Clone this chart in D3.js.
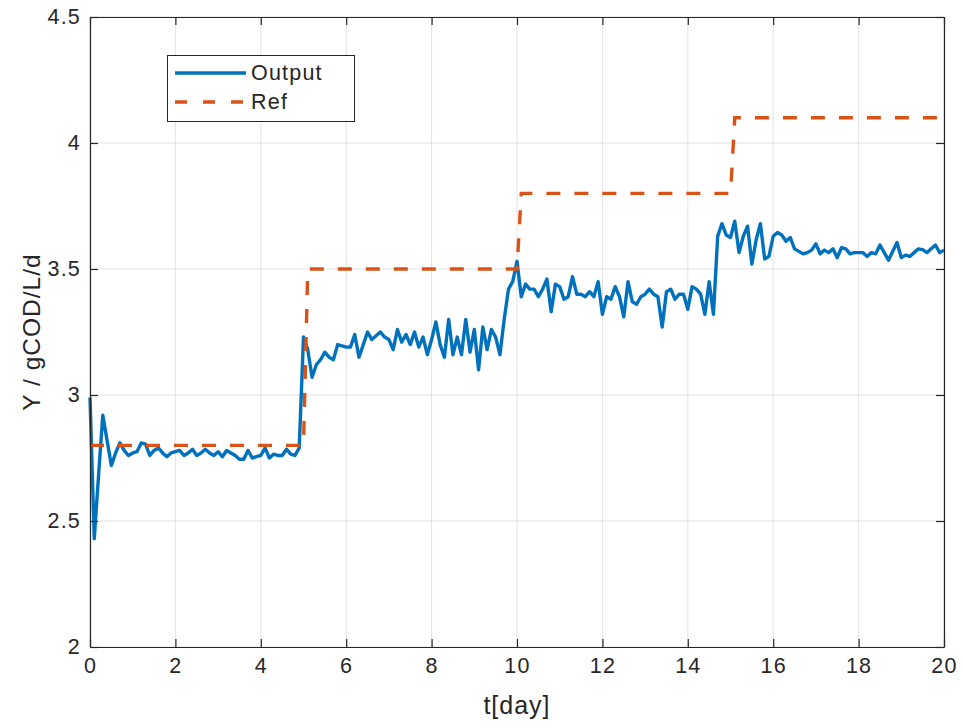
<!DOCTYPE html>
<html>
<head>
<meta charset="utf-8">
<script src="https://cdn.jsdelivr.net/npm/d3@7"></script>
<style>
  body { margin: 0; background: #fff; }
  svg text { font-family: "Liberation Sans", Arial, sans-serif; fill: #262626; }
</style>
</head>
<body>
<div id="chart"></div>
<script>
// sampled every 0.1 day, t = 0 .. 20
var tStep = 0.1

var outputVals = [
  2.99, 2.43, 2.68, 2.92, 2.82, 2.72, 2.77, 2.81, 2.78, 2.76,
  2.77, 2.775, 2.81, 2.805, 2.76, 2.78, 2.79, 2.77, 2.755, 2.77,
  2.775, 2.78, 2.76, 2.77, 2.785, 2.76, 2.77, 2.785, 2.77, 2.76,
  2.775, 2.755, 2.78, 2.77, 2.76, 2.745, 2.745, 2.78, 2.75, 2.755,
  2.76, 2.79, 2.75, 2.765, 2.76, 2.76, 2.785, 2.765, 2.76, 2.79,
  3.23, 3.18, 3.07, 3.12, 3.14, 3.17, 3.15, 3.14, 3.20, 3.195,
  3.19, 3.19, 3.24, 3.15, 3.20, 3.25, 3.22, 3.235, 3.25, 3.23,
  3.22, 3.18, 3.26, 3.21, 3.24, 3.20, 3.25, 3.19, 3.23, 3.16,
  3.22, 3.29, 3.20, 3.15, 3.30, 3.16, 3.23, 3.16, 3.30, 3.17,
  3.26, 3.10, 3.27, 3.18, 3.26, 3.23, 3.16, 3.30, 3.42, 3.45,
  3.53, 3.39, 3.44, 3.42, 3.42, 3.39, 3.42, 3.46, 3.33, 3.44,
  3.43, 3.38, 3.39, 3.47, 3.40, 3.40, 3.39, 3.41, 3.39, 3.45,
  3.32, 3.39, 3.38, 3.43, 3.39, 3.31, 3.45, 3.37, 3.36, 3.39,
  3.40, 3.42, 3.40, 3.39, 3.27, 3.41, 3.42, 3.38, 3.40, 3.40,
  3.34, 3.43, 3.42, 3.40, 3.32, 3.45, 3.32, 3.63, 3.68, 3.635,
  3.625, 3.69, 3.565, 3.63, 3.67, 3.52, 3.615, 3.68, 3.54, 3.55,
  3.63, 3.645, 3.635, 3.61, 3.625, 3.58, 3.57, 3.56, 3.565, 3.575,
  3.60, 3.56, 3.575, 3.565, 3.58, 3.545, 3.585, 3.58, 3.56, 3.565,
  3.565, 3.565, 3.55, 3.565, 3.56, 3.595, 3.565, 3.535, 3.57, 3.605,
  3.545, 3.555, 3.55, 3.565, 3.58, 3.577, 3.565, 3.58, 3.595, 3.565,
  3.575
]

// reference setpoint breakpoints
var refDays = [0, 5, 5.1, 10, 10.1, 15, 15.1, 20]
var refVals = [2.8, 2.8, 3.5, 3.5, 3.8, 3.8, 4.1, 4.1]

var xTicks = [0, 2, 4, 6, 8, 10, 12, 14, 16, 18, 20]
var yTicks = [2, 2.5, 3, 3.5, 4, 4.5]

var legendNames = ["Output", "Ref"]

var w = 963, h = 726
var padL = 90, padR = 944, padT = 17, padB = 647
var blue = "#0072BD", orange = "#D95319", axisCol = "#262626"

var svg = d3.select("#chart")
  .append("svg")
  .attr("width", w)
  .attr("height", h)

var x = d3.scaleLinear().domain([0, 20]).range([padL, padR])
var y = d3.scaleLinear().domain([2, 4.5]).range([padB, padT])

// grid
svg.append("g")
  .selectAll("line")
  .data(xTicks)
  .join("line")
  .attr("x1", d => x(d)).attr("x2", d => x(d))
  .attr("y1", padT).attr("y2", padB)
  .attr("stroke", "#e3e3e3").attr("stroke-width", 1)

svg.append("g")
  .selectAll("line")
  .data(yTicks)
  .join("line")
  .attr("x1", padL).attr("x2", padR)
  .attr("y1", d => y(d)).attr("y2", d => y(d))
  .attr("stroke", "#e3e3e3").attr("stroke-width", 1)

// data lines
var outData = outputVals.map((v, i) => [i * tStep, v])
var refData = refDays.map((d, i) => [d, refVals[i]])

var line = d3.line()
  .x(d => x(d[0]))
  .y(d => y(d[1]))

svg.append("path")
  .attr("d", line(outData))
  .attr("fill", "none")
  .attr("stroke", blue)
  .attr("stroke-width", 3.4)
  .attr("stroke-linejoin", "round")

svg.append("path")
  .attr("d", line(refData))
  .attr("fill", "none")
  .attr("stroke", orange)
  .attr("stroke-width", 3.4)
  .attr("stroke-dasharray", "14,14")

// axes, ticks pointing inward, box on
function styleAxis(g) {
  g.select(".domain").attr("stroke", axisCol).attr("stroke-width", 1.2)
  g.selectAll(".tick line").attr("stroke", axisCol).attr("stroke-width", 1.2)
  g.selectAll("text")
    .attr("fill", axisCol)
    .style("font-size", "21.5px")
    .style("letter-spacing", "1.2px")
}

svg.append("g")
  .attr("transform", `translate(0,${padB})`)
  .call(d3.axisBottom(x).tickValues(xTicks).tickFormat(d3.format("d"))
    .tickSizeInner(-8).tickSizeOuter(0).tickPadding(11))
  .call(styleAxis)

svg.append("g")
  .attr("transform", `translate(0,${padT})`)
  .call(d3.axisTop(x).tickValues(xTicks).tickFormat("")
    .tickSizeInner(-8).tickSizeOuter(0))
  .call(styleAxis)

svg.append("g")
  .attr("transform", `translate(${padL},0)`)
  .call(d3.axisLeft(y).tickValues(yTicks).tickFormat(d3.format("~g"))
    .tickSizeInner(-8).tickSizeOuter(0).tickPadding(9))
  .call(styleAxis)

svg.append("g")
  .attr("transform", `translate(${padR},0)`)
  .call(d3.axisRight(y).tickValues(yTicks).tickFormat("")
    .tickSizeInner(-8).tickSizeOuter(0))
  .call(styleAxis)

// axis labels
svg.append("text")
  .attr("x", (padL + padR) / 2)
  .attr("y", 705)
  .attr("text-anchor", "middle")
  .attr("dominant-baseline", "central")
  .style("font-size", "25px")
  .style("letter-spacing", "1px")
  .text("t[day]")

svg.append("text")
  .attr("transform", `translate(31,${(padT + padB) / 2}) rotate(-90)`)
  .attr("text-anchor", "middle")
  .attr("dominant-baseline", "central")
  .style("font-size", "24.5px")
  .style("letter-spacing", "1px")
  .text("Y / gCOD/L/d")

// legend
var lg = svg.append("g")
lg.append("rect")
  .attr("x", 167.5).attr("y", 55.5)
  .attr("width", 187).attr("height", 66)
  .attr("fill", "#fff")
  .attr("stroke", axisCol).attr("stroke-width", 1)

var legRows = lg.selectAll("g")
  .data(legendNames)
  .join("g")
  .attr("transform", (d, i) => `translate(0,${73 + i * 29})`)

legRows.append("line")
  .attr("x1", 175).attr("x2", 246)
  .attr("y1", 0).attr("y2", 0)
  .attr("stroke", (d, i) => i == 0 ? blue : orange)
  .attr("stroke-width", 3.4)
  .attr("stroke-dasharray", (d, i) => i == 0 ? null : "12,16")

legRows.append("text")
  .attr("x", 251)
  .attr("y", 0)
  .attr("dominant-baseline", "central")
  .style("font-size", "21.5px")
  .style("letter-spacing", "1.2px")
  .text(d => d)
</script>
</body>
</html>
